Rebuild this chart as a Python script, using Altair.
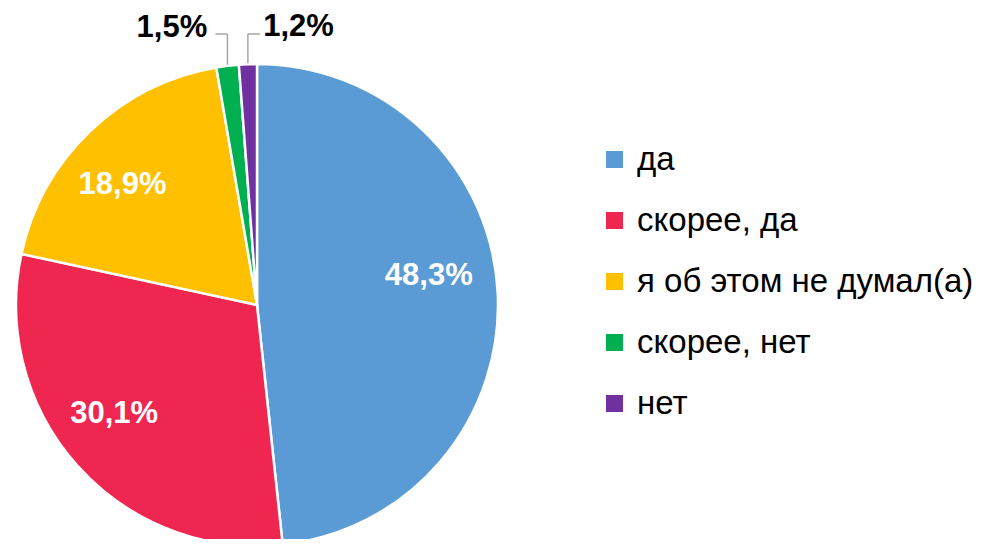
import altair as alt
import pandas as pd

categories = ["да", "скорее, да", "я об этом не думал(а)", "скорее, нет", "нет"]
values = [48.3, 30.1, 18.9, 1.5, 1.2]
labels = ["48,3%", "30,1%", "18,9%", "1,5%", "1,2%"]
colors = ["#5B9BD5", "#EE2650", "#FFC000", "#00B050", "#7030A0"]

df = pd.DataFrame({"cat": categories, "val": values, "label": labels,
                   "order": list(range(len(categories)))})

CX, CY, R = 249, 297, 241
FONT = "Liberation Sans"

base = alt.Chart(df).transform_window(
    cum="sum(val)", sort=[alt.SortField("order")]
).transform_calculate(
    t1="2*PI*(datum.cum-datum.val)/100",
    t2="2*PI*datum.cum/100",
    mid="PI*(2*datum.cum-datum.val)/100",
)

pie = base.mark_arc(radius=R, stroke="white", strokeWidth=2.5).encode(
    theta=alt.Theta("t1:Q", scale=None),
    theta2="t2:Q",
    color=alt.Color("cat:N", scale=alt.Scale(domain=categories, range=colors),
                    legend=alt.Legend(title=None, orient="none", legendX=590, legendY=135,
                                      symbolType="square", symbolSize=289, symbolStrokeWidth=0,
                                      labelFont=FONT, labelFontSize=33, labelColor="black",
                                      labelOffset=6, rowPadding=27, labelLimit=500)),
    x=alt.value(CX), y=alt.value(CY),
)


def label_layer(cat, radius, dx, dy, color):
    return base.transform_filter(alt.datum.cat == cat).mark_text(
        radius=radius, dx=dx, dy=dy, font=FONT, fontSize=31, fontWeight="bold",
        color=color, align="center", baseline="middle",
    ).encode(theta=alt.Theta("mid:Q", scale=None), text="label:N",
             x=alt.value(CX), y=alt.value(CY))


texts = [
    label_layer("да", 180, -8, -19, "white"),
    label_layer("скорее, да", 180, -9, -11, "white"),
    label_layer("я об этом не думал(а)", 180, -10, 10, "white"),
    label_layer("скорее, нет", 279, -51, 0, "black"),
    label_layer("нет", 278, 52, 0, "black"),
]

small = base.transform_filter(alt.datum.order >= 3).transform_calculate(
    lx=f"{CX} + {R + 1}*sin(datum.mid)",
    ly1=f"{CY} - {R + 1}*cos(datum.mid)",
    ly2="26",
    hx="datum.lx + (datum.order == 3 ? -12 : 12)",
)
lead_v = small.mark_rule(color="#A6A6A6", strokeWidth=1.5).encode(
    x=alt.X("lx:Q", scale=None, axis=None),
    y=alt.Y("ly1:Q", scale=None, axis=None),
    y2="ly2:Q",
)
lead_h = small.mark_rule(color="#A6A6A6", strokeWidth=1.5).encode(
    x=alt.X("lx:Q", scale=None, axis=None),
    x2="hx:Q",
    y=alt.Y("ly2:Q", scale=None, axis=None),
)

chart = alt.layer(pie, lead_v, lead_h, *texts).properties(
    width=968, height=531, padding=0, autosize="none"
).configure_view(stroke=None)

chart.save("out.html", embed_options={"renderer": "svg", "actions": False})
